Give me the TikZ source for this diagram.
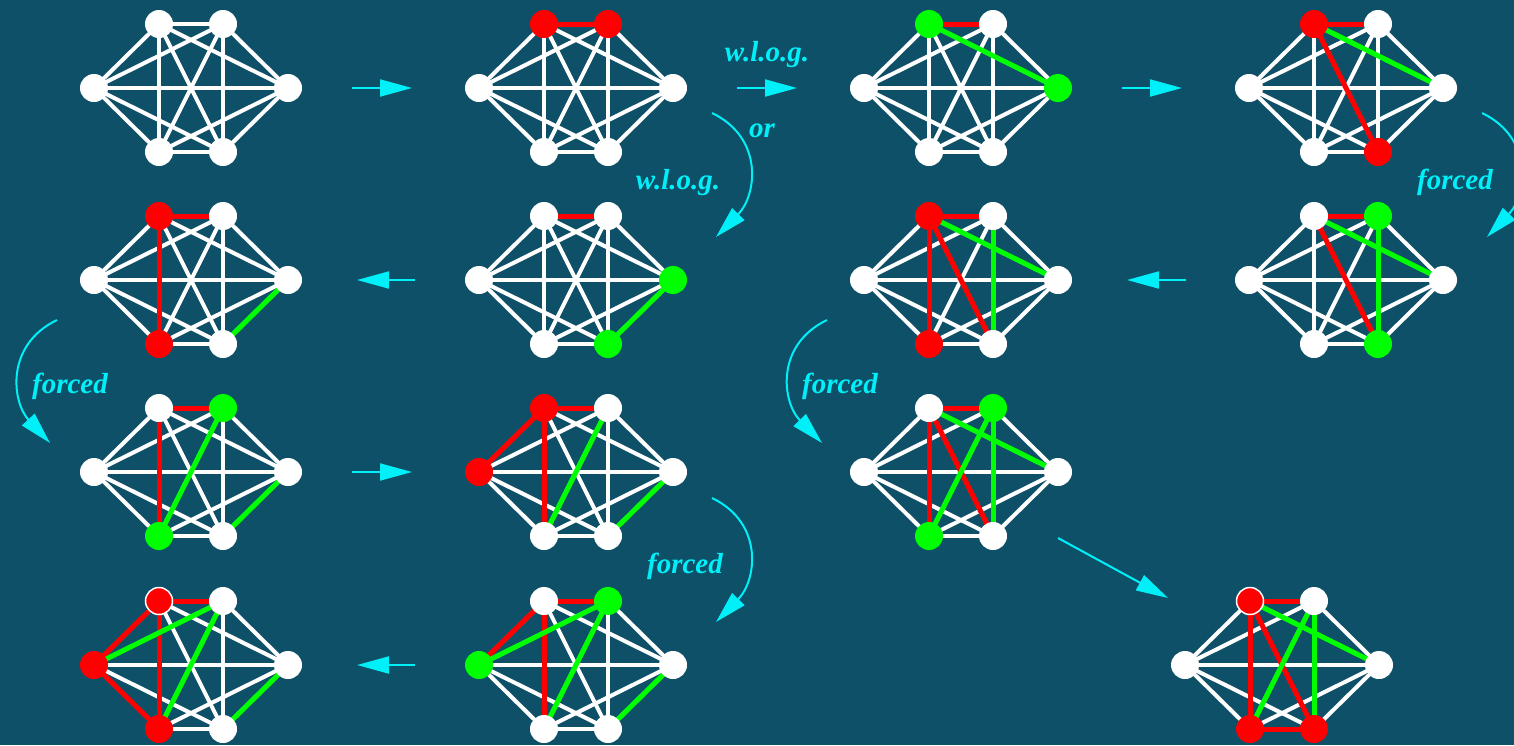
\documentclass[tikz,border=0pt]{standalone}
\usepackage{fontspec}
\setmainfont{Liberation Serif}
\usetikzlibrary{arrows.meta}
\pgfdeclarelayer{bgl}\pgfdeclarelayer{wedges}\pgfdeclarelayer{cedges}
\pgfsetlayers{bgl,wedges,cedges,main}
\definecolor{bgc}{RGB}{14,80,103}
\definecolor{cyanish}{RGB}{0,240,250}
\definecolor{vred}{RGB}{255,0,0}
\definecolor{vgreen}{RGB}{0,255,0}
\tikzset{
 vtx/.style={circle,inner sep=0pt,minimum size=28pt},
 vw/.style={vtx,fill=white},
 vr/.style={vtx,fill=vred},
 vg/.style={vtx,fill=vgreen},
 vro/.style={vtx,fill=vred,draw=white,line width=1.5pt,minimum size=27pt},
 wedge/.style={white,line width=4pt},
 cedgestyle/.style={line width=5pt},
 flow/.style={cyanish,line width=2pt,-{Triangle[length=32pt,width=17pt]}},
 lbl/.style={text=cyanish,font=\fontsize{29}{34}\selectfont\bfseries\itshape,inner sep=0pt},
}
\newcommand\kgraph[9]{%
 \node[#4] (#1A) at (#2-32,#3-64) {};
 \node[#5] (#1B) at (#2+32,#3-64) {};
 \node[#6] (#1C) at (#2-97,#3) {};
 \node[#7] (#1D) at (#2+97,#3) {};
 \node[#8] (#1E) at (#2-32,#3+64) {};
 \node[#9] (#1F) at (#2+32,#3+64) {};
 \begin{pgfonlayer}{wedges}
 \foreach \u/\v in {A/B,A/C,A/D,A/E,A/F,B/C,B/D,B/E,B/F,C/D,C/E,C/F,D/E,D/F,E/F}
 {\draw[wedge] (#1\u.center) -- (#1\v.center);}
 \end{pgfonlayer}}
\newcommand\cedges[2]{%
 \begin{pgfonlayer}{cedges}
 \foreach \u/\v/\c in {#2} {\draw[cedgestyle,\c] (#1\u.center) -- (#1\v.center);}
 \end{pgfonlayer}}
\begin{document}
\begin{tikzpicture}[x=1pt,y=-1pt]
\begin{pgfonlayer}{bgl}
\fill[bgc] (0,0) rectangle (1514,745);
\end{pgfonlayer}
\useasboundingbox (0,0) rectangle (1514,745);

% row 1
\kgraph{ga}{191}{88}{vw}{vw}{vw}{vw}{vw}{vw}
\kgraph{gb}{576}{88}{vr}{vr}{vw}{vw}{vw}{vw}
\cedges{gb}{A/B/vred}
\kgraph{gc}{961}{88}{vg}{vw}{vw}{vg}{vw}{vw}
\cedges{gc}{A/B/vred,A/D/vgreen}
\kgraph{gd}{1346}{88}{vr}{vw}{vw}{vw}{vw}{vr}
\cedges{gd}{A/B/vred,A/D/vgreen,A/F/vred}
% row 2
\kgraph{ge}{1346}{280}{vw}{vg}{vw}{vw}{vw}{vg}
\cedges{ge}{A/B/vred,A/D/vgreen,A/F/vred,B/F/vgreen}
\kgraph{gf}{961}{280}{vr}{vw}{vw}{vw}{vr}{vw}
\cedges{gf}{A/B/vred,A/D/vgreen,A/F/vred,B/F/vgreen,A/E/vred}
\kgraph{gi}{576}{280}{vw}{vw}{vw}{vg}{vw}{vg}
\cedges{gi}{A/B/vred,D/F/vgreen}
\kgraph{gj}{191}{280}{vr}{vw}{vw}{vw}{vr}{vw}
\cedges{gj}{A/B/vred,A/E/vred,D/F/vgreen}
% row 3
\kgraph{gk}{191}{472}{vw}{vg}{vw}{vw}{vg}{vw}
\cedges{gk}{A/B/vred,A/E/vred,D/F/vgreen,B/E/vgreen}
\kgraph{gl}{576}{472}{vr}{vw}{vr}{vw}{vw}{vw}
\cedges{gl}{A/B/vred,A/E/vred,D/F/vgreen,B/E/vgreen,A/C/vred}
\kgraph{gg}{961}{472}{vw}{vg}{vw}{vw}{vg}{vw}
\cedges{gg}{A/B/vred,A/D/vgreen,A/F/vred,B/F/vgreen,A/E/vred,B/E/vgreen}
% row 4
\kgraph{gn}{191}{665}{vro}{vw}{vr}{vw}{vr}{vw}
\cedges{gn}{A/B/vred,A/E/vred,D/F/vgreen,B/E/vgreen,A/C/vred,B/C/vgreen,C/E/vred}
\kgraph{gm}{576}{665}{vw}{vg}{vg}{vw}{vw}{vw}
\cedges{gm}{A/B/vred,A/E/vred,D/F/vgreen,B/E/vgreen,A/C/vred,B/C/vgreen}
\kgraph{gh}{1282}{665}{vro}{vw}{vw}{vw}{vr}{vr}
\cedges{gh}{A/B/vred,A/D/vgreen,A/F/vred,B/F/vgreen,A/E/vred,B/E/vgreen,E/F/vred}

% arrow end points
\coordinate (s1) at (352,88);   \coordinate (e1) at (412,88);
\coordinate (s2) at (737,88);   \coordinate (e2) at (797,88);
\coordinate (s3) at (1122,88);  \coordinate (e3) at (1182,88);
\coordinate (s4) at (415,280);  \coordinate (e4) at (357,280);
\coordinate (s5) at (1186,280); \coordinate (e5) at (1127,280);
\coordinate (s6) at (352,472);  \coordinate (e6) at (412,472);
\coordinate (s7) at (415,665);  \coordinate (e7) at (357,665);
\coordinate (s8) at (1058,538); \coordinate (e8) at (1168,598);
\coordinate (c1s) at (712,113); \coordinate (c1e) at (716,237);
\coordinate (c2s) at (1482,113);\coordinate (c2e) at (1487,237);
\coordinate (c3s) at (57,320);  \coordinate (c3e) at (50,443);
\coordinate (c4s) at (827,320); \coordinate (c4e) at (822,443);
\coordinate (c5s) at (712,498); \coordinate (c5e) at (716,622);

\draw[flow] (s1) -- (e1);
\draw[flow] (s2) -- (e2);
\draw[flow] (s3) -- (e3);
\draw[flow] (s4) -- (e4);
\draw[flow] (s5) -- (e5);
\draw[flow] (s6) -- (e6);
\draw[flow] (s7) -- (e7);
\draw[flow] (s8) -- (e8);
\draw[flow] (c1s) .. controls (764,138) and (757,195) .. (c1e);
\draw[flow] (c2s) .. controls (1534,138) and (1527,195) .. (c2e);
\draw[flow] (c3s) .. controls (5,345) and (12,402) .. (c3e);
\draw[flow] (c4s) .. controls (775,345) and (782,402) .. (c4e);
\draw[flow] (c5s) .. controls (764,523) and (757,580) .. (c5e);

% labels
\node[lbl] (t1) at (767,55) {w.l.o.g.};
\node[lbl] (t2) at (762,131) {or};
\node[lbl] (t3) at (678,183) {w.l.o.g.};
\node[lbl] (t4) at (1455,182) {forced};
\node[lbl] (t5) at (70,386) {forced};
\node[lbl] (t6) at (840,386) {forced};
\node[lbl] (t7) at (685,566) {forced};
\end{tikzpicture}
\end{document}
